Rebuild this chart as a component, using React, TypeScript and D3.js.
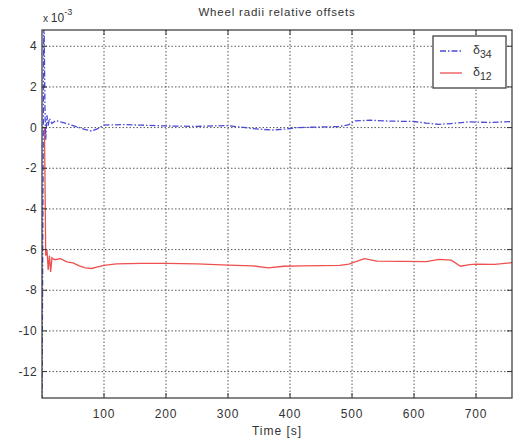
import { useEffect, useRef } from 'react';
import * as d3 from 'd3';

// Time axis ticks and y ticks (x 10^-3)
const xTicks = [100, 200, 300, 400, 500, 600, 700];
const yTicks = [-12, -10, -8, -6, -4, -2, 0, 2, 4];

// delta_34 (blue, dash-dot)
const timeBlue = [0, 3, 5, 6, 8, 10, 12, 16, 22, 30, 40, 50, 60, 70, 80, 90, 100, 130, 160, 200, 250, 300, 340, 370, 390, 410, 450, 480, 495, 505, 530, 560, 600, 620, 640, 660, 690, 720, 760];
const delta34 = [-14, 6, 0.5, -0.6, 0.6, 0.1, 0.45, 0.2, 0.35, 0.28, 0.2, 0.1, 0.0, -0.1, -0.17, -0.05, 0.12, 0.15, 0.12, 0.08, 0.06, 0.1, -0.05, -0.12, -0.08, 0.0, 0.03, 0.05, 0.15, 0.33, 0.36, 0.32, 0.3, 0.22, 0.16, 0.2, 0.28, 0.25, 0.3];

// delta_12 (red, solid)
const timeRed = [0, 4, 6, 8, 10, 12, 14, 16, 20, 30, 40, 50, 60, 70, 80, 90, 100, 120, 160, 200, 250, 300, 340, 365, 390, 420, 480, 495, 505, 520, 540, 580, 620, 640, 660, 675, 690, 700, 730, 760];
const delta12 = [0, 0, -6.3, -6.0, -7.0, -6.3, -7.1, -6.4, -6.5, -6.45, -6.6, -6.65, -6.8, -6.9, -6.93, -6.85, -6.78, -6.7, -6.68, -6.68, -6.7, -6.76, -6.8, -6.9, -6.82, -6.8, -6.78, -6.72, -6.6, -6.45, -6.57, -6.58, -6.59, -6.48, -6.52, -6.82, -6.74, -6.72, -6.73, -6.64];

const width = 518;
const height = 441;

export default function App() {
  const svgRef = useRef<SVGSVGElement>(null);

  useEffect(() => {
    if (!svgRef.current) return;
    const svg = d3.select(svgRef.current);
    svg.selectAll('*').remove();

    const margin = { top: 30, right: 6, bottom: 43, left: 42 };
    const innerWidth = width - margin.left - margin.right;
    const innerHeight = height - margin.top - margin.bottom;
    const font = 'Liberation Sans, Arial, sans-serif';
    const ink = '#333';

    const x = d3.scaleLinear().domain([0, 758]).range([0, innerWidth]);
    const y = d3.scaleLinear().domain([-13.3, 4.8]).range([innerHeight, 0]);

    svg.append('rect').attr('width', width).attr('height', height).attr('fill', '#fff');

    const g = svg.append('g').attr('transform', `translate(${margin.left},${margin.top})`);

    svg.append('defs').append('clipPath').attr('id', 'plot-clip')
      .append('rect').attr('width', innerWidth).attr('height', innerHeight);

    // dotted grid
    g.append('g').selectAll('line').data(xTicks).join('line')
      .attr('x1', (d) => x(d)).attr('x2', (d) => x(d))
      .attr('y1', 0).attr('y2', innerHeight)
      .attr('stroke', '#444').attr('stroke-width', 0.9).attr('stroke-dasharray', '1.5,2');
    g.append('g').selectAll('line').data(yTicks).join('line')
      .attr('x1', 0).attr('x2', innerWidth)
      .attr('y1', (d) => y(d)).attr('y2', (d) => y(d))
      .attr('stroke', '#444').attr('stroke-width', 0.9).attr('stroke-dasharray', '1.5,2');

    // lines
    const line = d3.line<[number, number]>().x((d) => x(d[0])).y((d) => y(d[1]));
    const plot = g.append('g').attr('clip-path', 'url(#plot-clip)');
    plot.append('path')
      .datum(timeRed.map((t, i) => [t, delta12[i]] as [number, number]))
      .attr('d', line)
      .attr('fill', 'none').attr('stroke', '#ee5050').attr('stroke-width', 1.3);
    plot.append('path')
      .datum(timeBlue.map((t, i) => [t, delta34[i]] as [number, number]))
      .attr('d', line)
      .attr('fill', 'none').attr('stroke', '#4a4ad8').attr('stroke-width', 1.3)
      .attr('stroke-dasharray', '6,2,1.5,2');

    // frame and ticks on all four sides
    g.append('rect').attr('width', innerWidth).attr('height', innerHeight)
      .attr('fill', 'none').attr('stroke', ink).attr('stroke-width', 1.2);
    const tl = 5;
    xTicks.forEach((t) => {
      g.append('line').attr('x1', x(t)).attr('x2', x(t)).attr('y1', innerHeight).attr('y2', innerHeight - tl).attr('stroke', ink);
      g.append('line').attr('x1', x(t)).attr('x2', x(t)).attr('y1', 0).attr('y2', tl).attr('stroke', ink);
    });
    yTicks.forEach((t) => {
      g.append('line').attr('x1', 0).attr('x2', tl).attr('y1', y(t)).attr('y2', y(t)).attr('stroke', ink);
      g.append('line').attr('x1', innerWidth).attr('x2', innerWidth - tl).attr('y1', y(t)).attr('y2', y(t)).attr('stroke', ink);
    });

    // tick labels
    g.append('g').selectAll('text').data(xTicks).join('text')
      .attr('x', (d) => x(d)).attr('y', innerHeight + 20)
      .attr('text-anchor', 'middle').attr('font-family', font).attr('font-size', 12)
      .attr('letter-spacing', 0.8).attr('fill', ink)
      .text((d) => d);
    g.append('g').selectAll('text').data(yTicks).join('text')
      .attr('x', -5).attr('y', (d) => y(d) + 4)
      .attr('text-anchor', 'end').attr('font-family', font).attr('font-size', 12)
      .attr('letter-spacing', 0.4).attr('fill', ink)
      .text((d) => d);

    // exponent label
    const ex = svg.append('text').attr('x', 43).attr('y', 22)
      .attr('font-family', font).attr('font-size', 12).attr('fill', ink);
    ex.append('tspan').attr('font-size', 10).text('x ');
    ex.append('tspan').text('10');
    ex.append('tspan').attr('font-size', 9).attr('dy', -7).text('-3');

    // title and axis label
    svg.append('text').attr('x', margin.left + innerWidth / 2).attr('y', 16)
      .attr('text-anchor', 'middle').attr('font-family', font).attr('font-size', 11.5)
      .attr('letter-spacing', 0.8).attr('fill', ink)
      .text('Wheel radii relative offsets');
    svg.append('text').attr('x', margin.left + innerWidth / 2).attr('y', 435)
      .attr('text-anchor', 'middle').attr('font-family', font).attr('font-size', 12)
      .attr('letter-spacing', 1).attr('fill', ink)
      .text('Time [s]');

    // legend
    const legend = svg.append('g').attr('transform', 'translate(433,36)');
    legend.append('rect').attr('width', 73).attr('height', 52)
      .attr('fill', '#fff').attr('stroke', ink).attr('stroke-width', 1.2);
    const items = [
      { sym: '\u03b4', sub: '34', color: '#4a4ad8', dash: '6,2,1.5,2' },
      { sym: '\u03b4', sub: '12', color: '#ee5050', dash: null },
    ];
    items.forEach((item, i) => {
      const cy = 15 + i * 22;
      legend.append('line').attr('x1', 7).attr('x2', 29).attr('y1', cy).attr('y2', cy)
        .attr('stroke', item.color).attr('stroke-width', 1.3)
        .attr('stroke-dasharray', item.dash);
      const t = legend.append('text').attr('x', 40).attr('y', cy + 3)
        .attr('font-family', font).attr('font-size', 12.5).attr('fill', ink);
      t.append('tspan').text(item.sym);
      t.append('tspan').attr('font-size', 10.5).attr('dy', 4).text(item.sub);
    });
  }, []);

  return (
    <svg
      ref={svgRef}
      width={width}
      height={height}
      style={{ position: 'absolute', left: 0, top: 0 }}
    />
  );
}
